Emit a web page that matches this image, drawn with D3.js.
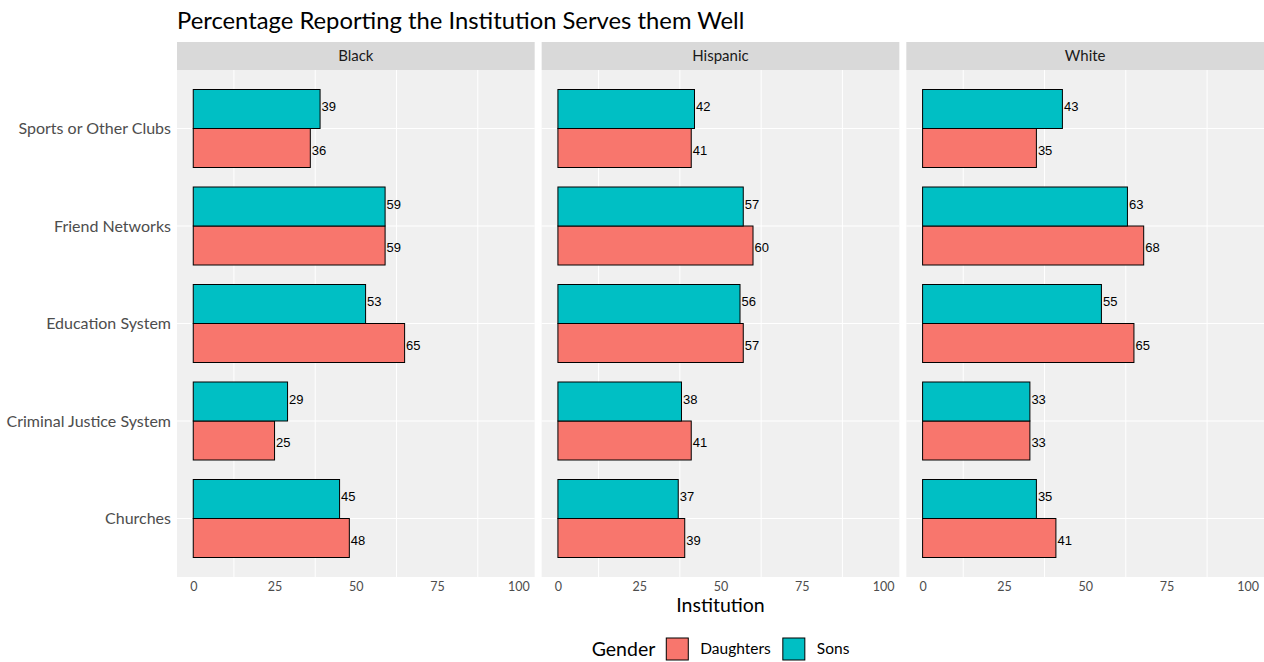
<!DOCTYPE html>
<html>
<head>
<meta charset="utf-8">
<script src="https://cdn.jsdelivr.net/npm/d3@7"></script>
<style>
  body { margin: 0; background: #fff; }
  svg { display: block; }
  .gill { font-family: Lato, "Open Sans", sans-serif; }
</style>
</head>
<body>
<div id="chart"></div>
<script>
// data
var categories = ["Sports or Other Clubs", "Friend Networks", "Education System", "Criminal Justice System", "Churches"];
var races = ["Black", "Hispanic", "White"];
var genders = ["Daughters", "Sons"];
var blackDaughters = [36, 59, 65, 25, 48];
var blackSons = [39, 59, 53, 29, 45];
var hispanicDaughters = [41, 60, 57, 41, 39];
var hispanicSons = [42, 57, 56, 38, 37];
var whiteDaughters = [35, 68, 65, 33, 41];
var whiteSons = [43, 63, 55, 33, 35];
var xTicks = [0, 25, 50, 75, 100];
var xGrid = [12.5, 37.5, 62.5, 87.5];

var seriesByRace = {
  Black: {Daughters: blackDaughters, Sons: blackSons},
  Hispanic: {Daughters: hispanicDaughters, Sons: hispanicSons},
  White: {Daughters: whiteDaughters, Sons: whiteSons}
};
var fills = {Daughters: "#F8766D", Sons: "#00BFC4"};

var width = 1264, height = 662;
var plotLeft = 177, plotRight = 1264, gap = 7;
var stripTop = 42, panelTop = 70, panelBottom = 577;
var panelW = (plotRight - plotLeft - 2 * gap) / 3;
var panelH = panelBottom - panelTop;

var svg = d3.select('#chart').append('svg')
  .attr('width', width).attr('height', height);

svg.append('text')
  .attr('class', 'gill')
  .attr('x', plotLeft).attr('y', 29)
  .attr('font-size', 23.8).attr('fill', '#000')
  .text('Percentage Reporting the Institution Serves them Well');

var x = d3.scaleLinear().domain([-5, 105]).range([0, panelW]);
var y = d3.scaleBand().domain(categories).range([0, panelH])
  .paddingInner(0.2).paddingOuter(0.2);
var yInner = d3.scaleBand().domain(["Sons", "Daughters"]).range([0, y.bandwidth()]);
// labels are dodged a little wider (0.9) than the bars (0.8)
var labelOff = {Sons: -0.225 * y.step(), Daughters: 0.225 * y.step()};

// y axis labels
var yAxis = svg.append('g')
  .attr('transform', 'translate(' + (plotLeft - 6) + ',' + panelTop + ')');
yAxis.selectAll('text').data(categories).enter().append('text')
  .attr('class', 'gill')
  .attr('x', 0)
  .attr('y', function(d){ return y(d) + y.bandwidth() / 2; })
  .attr('dy', '0.35em')
  .attr('text-anchor', 'end')
  .attr('font-size', 16)
  .attr('fill', '#4D4D4D')
  .text(function(d){ return d; });

races.forEach(function(race, i){
  var px = plotLeft + i * (panelW + gap);
  var g = svg.append('g').attr('transform', 'translate(' + px + ',0)');

  // strip
  g.append('rect').attr('x', 0).attr('y', stripTop)
    .attr('width', panelW).attr('height', panelTop - stripTop)
    .attr('fill', '#D9D9D9');
  g.append('text').attr('class', 'gill')
    .attr('x', panelW / 2).attr('y', (stripTop + panelTop) / 2)
    .attr('dy', '0.35em').attr('text-anchor', 'middle')
    .attr('font-size', 15).attr('fill', '#1A1A1A')
    .text(race);

  var p = g.append('g').attr('transform', 'translate(0,' + panelTop + ')');
  p.append('rect').attr('width', panelW).attr('height', panelH).attr('fill', '#F0F0F0');

  p.selectAll('line.vgrid').data(xGrid).enter().append('line')
    .attr('class', 'vgrid')
    .attr('x1', function(d){ return x(d); }).attr('x2', function(d){ return x(d); })
    .attr('y1', 0).attr('y2', panelH)
    .attr('stroke', '#fff').attr('stroke-width', 1);
  p.selectAll('line.hgrid').data(categories).enter().append('line')
    .attr('class', 'hgrid')
    .attr('x1', 0).attr('x2', panelW)
    .attr('y1', function(d){ return y(d) + y.bandwidth() / 2; })
    .attr('y2', function(d){ return y(d) + y.bandwidth() / 2; })
    .attr('stroke', '#fff').attr('stroke-width', 1.2);

  var rows = [];
  genders.forEach(function(gd){
    seriesByRace[race][gd].forEach(function(v, k){
      rows.push({cat: categories[k], gender: gd, value: v});
    });
  });

  p.selectAll('rect.bar').data(rows).enter().append('rect')
    .attr('class', 'bar')
    .attr('x', x(0))
    .attr('y', function(d){ return y(d.cat) + yInner(d.gender); })
    .attr('width', function(d){ return x(d.value) - x(0); })
    .attr('height', yInner.bandwidth())
    .attr('fill', function(d){ return fills[d.gender]; })
    .attr('stroke', '#000').attr('stroke-width', 1);

  p.selectAll('text.lbl').data(rows).enter().append('text')
    .attr('class', 'lbl')
    .attr('x', function(d){ return x(d.value) + 1.5; })
    .attr('y', function(d){ return y(d.cat) + y.bandwidth() / 2 + labelOff[d.gender]; })
    .attr('dy', '0.35em')
    .attr('font-family', '"Liberation Sans", Arial, sans-serif')
    .attr('font-size', 13).attr('fill', '#000')
    .text(function(d){ return d.value; });

  var xAxis = d3.axisBottom(x).tickValues(xTicks).tickSize(0).tickPadding(5);
  var ax = g.append('g').attr('transform', 'translate(0,' + panelBottom + ')').call(xAxis);
  ax.select('.domain').remove();
  ax.selectAll('text').attr('class', 'gill')
    .attr('font-size', 12.5).attr('fill', '#4D4D4D');
});

svg.append('text').attr('class', 'gill')
  .attr('x', (plotLeft + plotRight) / 2).attr('y', 612)
  .attr('text-anchor', 'middle').attr('font-size', 19.5).attr('fill', '#000')
  .text('Institution');

// legend
var leg = svg.append('g');
var lt = leg.append('text').attr('class', 'gill')
  .attr('x', 0).attr('y', 649).attr('dy', '0.35em')
  .attr('font-size', 19.5).attr('fill', '#000').text('Gender');
var cx = lt.node().getComputedTextLength() + 11;
genders.forEach(function(gd){
  leg.append('rect').attr('x', cx).attr('y', 638)
    .attr('width', 22).attr('height', 22)
    .attr('fill', fills[gd]).attr('stroke', '#000').attr('stroke-width', 1);
  var t = leg.append('text').attr('class', 'gill')
    .attr('x', cx + 34).attr('y', 649).attr('dy', '0.35em')
    .attr('font-size', 15.5).attr('fill', '#000').text(gd);
  cx += 34 + t.node().getComputedTextLength() + 12;
});
var legW = cx - 12;
leg.attr('transform', 'translate(' + ((plotLeft + plotRight) / 2 - legW / 2) + ',0)');
</script>
</body>
</html>
